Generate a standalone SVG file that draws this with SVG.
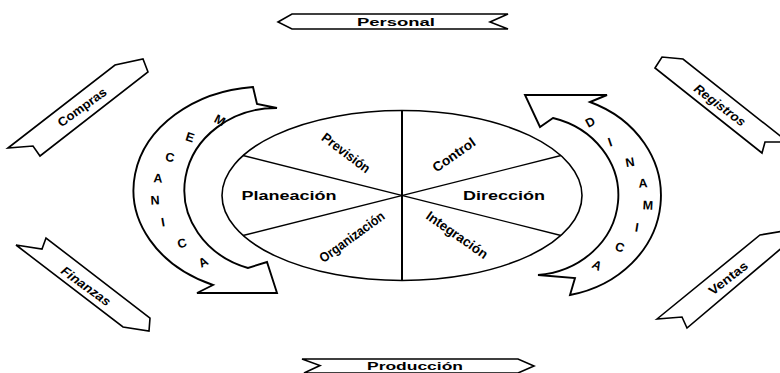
<svg xmlns="http://www.w3.org/2000/svg" width="780" height="373" viewBox="0 0 780 373">
<style>
.ln{fill:#fff;stroke:#000;stroke-width:1.9;stroke-linejoin:miter}
.bn{fill:#fff;stroke:#000;stroke-width:1.6;stroke-linejoin:miter}
.seg{stroke:#000;stroke-width:1.3;fill:none}
.t{font-family:"Liberation Sans",Arial,sans-serif;font-weight:bold;fill:#000;text-anchor:middle}
.w{font-size:13.5px}
.b{font-size:11px}
.r{font-size:12.5px}
.it{font-style:italic}
.lt{font-size:12.5px}
</style>
<rect width="780" height="373" fill="#fff"/>

<g id="personal">
<polygon class="bn" points="278,22 292,14 508,14 490,22 508,29 292,29"/>
<text class="t b" x="396" y="26" textLength="78" lengthAdjust="spacingAndGlyphs">Personal</text>
</g>

<g id="produccion">
<polygon class="bn" points="302,359 518,359 534,366 518,373 304,373 320,365.5"/>
<text class="t b" x="415" y="369.5" textLength="96" lengthAdjust="spacingAndGlyphs">Producción</text>
</g>

<g id="compras">
<polygon class="bn" points="8,148 115,65 143,59 148,72 40,156 33,146"/>
<text class="t r" transform="translate(82,107) rotate(-36)" x="0" y="4.5" textLength="57" lengthAdjust="spacingAndGlyphs">Compras</text>
</g>

<g id="finanzas">
<polygon class="bn" points="16,245 42,249 46,238 150,318 149,331 123,327"/>
<text class="t r it" transform="translate(86,286) rotate(36)" x="0" y="4.5" textLength="58" lengthAdjust="spacingAndGlyphs">Finanzas</text>
</g>

<g id="registros">
<polygon class="bn" points="655,68 662,57 683,59 784,139 784,142 765,142 762,153"/>
<text class="t r it" transform="translate(720,105) rotate(37)" x="0" y="4.5" textLength="61" lengthAdjust="spacingAndGlyphs">Registros</text>
</g>

<g id="ventas">
<polygon class="bn" points="657,319 760,235 784,231 784,246 687,328 682,317"/>
<text class="t r" transform="translate(728,278) rotate(-38)" x="0" y="4.5" textLength="46" lengthAdjust="spacingAndGlyphs">Ventas</text>
</g>

<g id="mecanica">
<path class="ln" d="M253,87 L257,104 L277,108 A92,82 0 0,0 248,268 L267,262 L277,293 L197,293 L213,285 A132,103.5 0 0,1 253,87 Z"/>
<g class="t lt">
<text transform="translate(220,120) rotate(28)" y="4.5">M</text>
<text transform="translate(190,137) rotate(18)" y="4.5">E</text>
<text transform="translate(170,157) rotate(10)" y="4.5">C</text>
<text transform="translate(158,178) rotate(3)" y="4.5">A</text>
<text transform="translate(155,200) rotate(-3)" y="4.5">N</text>
<text transform="translate(163,222) rotate(-10)" y="4.5">I</text>
<text transform="translate(182,243) rotate(-18)" y="4.5">C</text>
<text transform="translate(203,262) rotate(-28)" y="4.5">A</text>
</g>
</g>

<g id="dinamica">
<path class="ln" d="M525,95 L607,95 L590,102 A115,101.5 0 0,1 570,295 L575,278 L538,275 A88,80 0 0,0 553,118 L540,127 Z"/>
<g class="t lt">
<text transform="translate(590,122) rotate(-28)" y="4.5">D</text>
<text transform="translate(610,142) rotate(-19)" y="4.5">I</text>
<text transform="translate(630,162) rotate(-10)" y="4.5">N</text>
<text transform="translate(643,183) rotate(-4)" y="4.5">A</text>
<text transform="translate(648,205) rotate(3)" y="4.5">M</text>
<text transform="translate(637,227) rotate(9)" y="4.5">I</text>
<text transform="translate(620,247) rotate(17)" y="4.5">C</text>
<text transform="translate(597,265) rotate(27)" y="4.5">A</text>
</g>
</g>

<g id="wheel">
<ellipse cx="402" cy="195.5" rx="180" ry="85" fill="#fff" stroke="#000" stroke-width="1.6"/>
<line class="seg" x1="402" y1="110.5" x2="402" y2="280.5" style="stroke-width:2"/>
<line class="seg" x1="243" y1="155.5" x2="561" y2="235.5"/>
<line class="seg" x1="243" y1="235.5" x2="561" y2="155.5"/>
</g>

<g id="prevision"><text class="t w" transform="translate(346,153) rotate(37)" y="4.5" textLength="57" lengthAdjust="spacingAndGlyphs">Previsión</text></g>
<g id="control"><text class="t w" transform="translate(454,155) rotate(-35)" y="4.5" textLength="49" lengthAdjust="spacingAndGlyphs">Control</text></g>
<g id="planeacion"><text class="t" style="font-size:12px" x="289" y="199.5" textLength="95" lengthAdjust="spacingAndGlyphs">Planeación</text></g>
<g id="direccion"><text class="t" style="font-size:12px" x="504" y="200" textLength="82" lengthAdjust="spacingAndGlyphs">Dirección</text></g>
<g id="organizacion"><text class="t w" transform="translate(352,237) rotate(-36)" y="4.5" textLength="77" lengthAdjust="spacingAndGlyphs">Organización</text></g>
<g id="integracion"><text class="t w" transform="translate(457,235) rotate(35)" y="4.5" textLength="72" lengthAdjust="spacingAndGlyphs">Integración</text></g>

<g id="connectors"></g>
</svg>
